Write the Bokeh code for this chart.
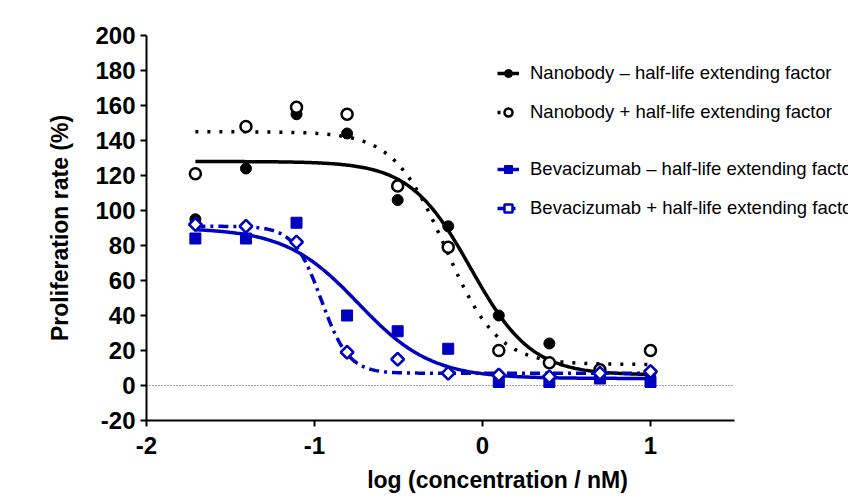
import numpy as np
from bokeh.plotting import figure
from bokeh.models import Range1d, FixedTicker, Legend, LegendItem
from bokeh.embed import file_html
from bokeh.resources import INLINE

# ---- data (log concentration / nM, proliferation rate %) ----
log_conc = [-1.709, -1.408, -1.107, -0.806, -0.505, -0.204, 0.097, 0.398, 0.699, 1.0]
nb_minus = [95, 124, 155, 144, 106, 91, 40, 24, 8, 7]
nb_plus = [121, 148, 159, 155, 114, 79, 20, 13, 9, 20]
bev_minus = [84, 84, 93, 40, 31, 21, 2, 2, 4, 2]
bev_plus = [92, 91, 82, 19, 15, 7, 6, 5, 7, 8]

# four-parameter logistic fit parameters: top, bottom, logEC50, hill
fit_nb_minus = [128, 6, -0.07, 2.4]
fit_nb_plus = [145, 12, -0.22, 2.8]
fit_bev_minus = [90, 4, -0.74, 2.0]
fit_bev_plus = [91, 7, -0.96, 5.3]

labels = ["Nanobody \u2013 half-life extending factor",
          "Nanobody + half-life extending factor",
          "Bevacizumab \u2013 half-life extending factor",
          "Bevacizumab + half-life extending factor"]

x_ticks = [-2, -1, 0, 1]
y_ticks = [-20, 0, 20, 40, 60, 80, 100, 120, 140, 160, 180, 200]
x_tick_labels = {-2: "-2", -1: "-1", 0: "0", 1: "1"}
y_tick_labels = {t: str(t) for t in y_ticks}
x_axis_min, x_axis_max = -2, 1.5
y_axis_min, y_axis_max = -20, 200

BLUE = "#0000C0"
FONT = "Liberation Sans"

# layout (pixels)
W, H = 848, 502
LEFT, TOP, BOTTOM = 146, 35, 82
PX_PER_UNIT = 168.0
frame_w = W - LEFT
x_view_max = x_axis_min + frame_w / PX_PER_UNIT


def curve(params, xs):
    top, bottom, ec, h = params
    xs = np.asarray(xs)
    return bottom + (top - bottom) / (1 + 10 ** ((xs - ec) * h))


p = figure(width=W, height=H, output_backend="svg", toolbar_location=None,
           x_range=Range1d(x_axis_min, x_view_max), y_range=Range1d(y_axis_min, y_axis_max),
           min_border_left=LEFT, min_border_right=0, min_border_top=TOP,
           min_border_bottom=BOTTOM)
p.outline_line_color = None
p.xgrid.visible = False
p.ygrid.visible = False
p.background_fill_color = "white"
p.border_fill_color = "white"

for ax in (p.xaxis[0], p.yaxis[0]):
    ax.axis_line_width = 2
    ax.axis_line_color = "black"
    ax.major_tick_line_width = 2
    ax.major_tick_line_color = "black"
    ax.major_tick_in = 0
    ax.major_tick_out = 6
    ax.minor_tick_line_color = None
    ax.major_label_text_font = FONT
    ax.major_label_text_font_style = "bold"
    ax.major_label_text_font_size = "24px"
    ax.major_label_text_color = "black"
    ax.axis_label_text_font = FONT
    ax.axis_label_text_font_style = "bold"
    ax.axis_label_text_font_size = "23px"
    ax.axis_label_text_color = "black"

p.xaxis[0].bounds = (x_axis_min, x_axis_max)
p.xaxis[0].ticker = FixedTicker(ticks=x_ticks)
p.yaxis[0].ticker = FixedTicker(ticks=y_ticks)
p.xaxis[0].major_label_overrides = x_tick_labels
p.yaxis[0].major_label_overrides = y_tick_labels
p.xaxis[0].axis_label = "log (concentration / nM)"
p.yaxis[0].axis_label = "Proliferation rate (%)"
p.xaxis[0].major_label_standoff = 10
p.yaxis[0].major_label_standoff = 5
p.xaxis[0].axis_label_standoff = 10
p.yaxis[0].axis_label_standoff = 19

# dotted zero reference line
p.line([x_axis_min, x_axis_max], [0, 0], line_color="#444444", line_width=1,
       line_dash="1 2")

xs = np.linspace(log_conc[0], log_conc[-1], 300)

# Nanobody - half-life extending factor
c1 = p.line(xs, curve(fit_nb_minus, xs), line_color="black", line_width=3.5)
s1 = p.scatter(log_conc, nb_minus, marker="circle", size=11,
               fill_color="black", line_color="black", line_width=1)
# Nanobody + half-life extending factor
c2 = p.line(xs, curve(fit_nb_plus, xs), line_color="black", line_width=3.5,
            line_dash="3 9")
s2 = p.scatter(log_conc, nb_plus, marker="circle", size=11,
               fill_color="white", line_color="black", line_width=2.5)
# Bevacizumab - half-life extending factor
c3 = p.line(xs, curve(fit_bev_minus, xs), line_color=BLUE, line_width=3.5)
s3 = p.scatter(log_conc, bev_minus, marker="square", size=11,
               fill_color=BLUE, line_color=BLUE, line_width=1)
# Bevacizumab + half-life extending factor
c4 = p.line(xs, curve(fit_bev_plus, xs), line_color=BLUE, line_width=3.5,
            line_dash="10 5 3 5")
s4 = p.scatter(log_conc, bev_plus, marker="square", size=9, angle=np.pi / 4,
               fill_color="white", line_color=BLUE, line_width=2.5)


def make_legend(items, loc):
    return Legend(items=items, location=loc, orientation="vertical",
                  background_fill_alpha=0, border_line_alpha=0,
                  padding=0, margin=0, spacing=17,
                  glyph_width=22, glyph_height=20, label_height=20,
                  label_standoff=11,
                  label_text_font=FONT, label_text_font_size="18.5px",
                  label_text_color="black")


leg1 = make_legend([LegendItem(label=labels[0], renderers=[c1, s1]),
                    LegendItem(label=labels[1], renderers=[c2, s2])], (351, 297))
leg2 = make_legend([LegendItem(label=labels[2], renderers=[c3, s3]),
                    LegendItem(label=labels[3], renderers=[c4, s4])], (351, 201))
p.add_layout(leg1, "center")
p.add_layout(leg2, "center")

open("out.html", "w").write(file_html(p, INLINE))
